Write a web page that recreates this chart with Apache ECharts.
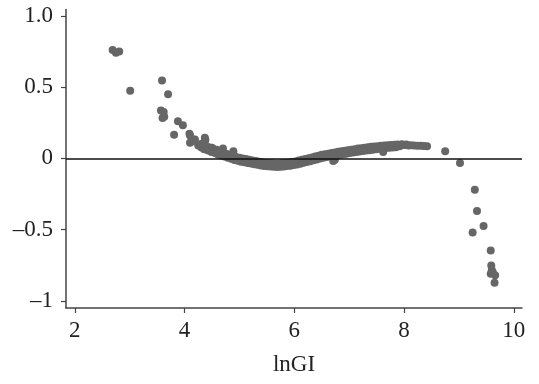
<!DOCTYPE html>
<html>
<head>
<meta charset="utf-8">
<script src="https://cdn.jsdelivr.net/npm/echarts@6/dist/echarts.min.js"></script>
<style>html,body{margin:0;padding:0;background:#fff}#c{width:539px;height:384px}</style>
</head>
<body>
<div id="c"></div>
<script>
var xTicks = [2, 4, 6, 8, 10];
var yTicks = [-1, -0.5, 0, 0.5, 1];
var yTickLabels = ['\u20131', '\u20130.5', '0', '0.5', '1.0'];
var xName = 'lnGI';

var leftPoints = [
  [2.69,0.76],[2.75,0.742],[2.81,0.751],[3.01,0.475],[3.59,0.547],[3.70,0.451],
  [3.57,0.337],[3.62,0.325],[3.63,0.293],[3.60,0.283],[3.88,0.26],[3.97,0.232],
  [3.81,0.166],[4.09,0.173],[4.13,0.138],[4.19,0.133],[4.10,0.11],[4.37,0.145],
  [4.36,0.11],[4.32,0.075],[4.41,0.063],[4.50,0.075],[4.56,0.04],[4.10,0.16],
  [4.38,0.13],[4.89,0.051],[4.70,0.07],[4.15,0.12],[4.25,0.09],[4.28,0.1]
];
var bandX = [4.30,4.33,4.36,4.40,4.43,4.46,4.49,4.52,4.55,4.58,4.61,4.64,4.67,4.70,4.73,4.76,4.79,4.82,4.85,4.88,
  4.91,4.94,4.97,5.00,5.03,5.06,5.09,5.12,5.15,5.18,5.21,5.24,5.27,5.30,5.33,5.36,5.39,5.42,5.45,5.48,
  5.51,5.54,5.57,5.60,5.63,5.66,5.69,5.72,5.75,5.78,5.81,5.84,5.87,5.90,5.93,5.96,5.99,6.02,6.05,6.08,
  6.11,6.14,6.17,6.20,6.23,6.26,6.29,6.32,6.35,6.38,6.41,6.44,6.47,6.50,6.53,6.56,6.59,6.62,6.65,6.68,
  6.71,6.74,6.77,6.80,6.83,6.86,6.89,6.92,6.95,6.98,7.01,7.04,7.07,7.10,7.13,7.16,7.19,7.22,7.25,7.28,
  7.31,7.34,7.37,7.40,7.43,7.46,7.49,7.52,7.55,7.58,7.61,7.64,7.67,7.70,7.73,7.76,7.79,7.82,7.85,7.88,
  7.92,7.96,8.00,8.04,8.08,8.12,8.18,8.24,8.30,8.36,8.42,6.74,7.62,6.71];
var bandY = [0.08,0.105,0.065,0.085,0.055,0.077,0.045,0.067,0.04,0.06,0.028,0.05,0.02,0.04,0.013,0.033,0.005,0.025,-0.003,0.017,
  -0.011,0.01,-0.017,0.005,-0.023,-0.001,-0.027,-0.005,-0.032,-0.01,-0.035,-0.015,-0.041,-0.019,-0.045,-0.023,-0.049,-0.027,-0.053,-0.03,
  -0.055,-0.032,-0.057,-0.034,-0.059,-0.035,-0.06,-0.036,-0.058,-0.033,-0.057,-0.031,-0.054,-0.028,-0.051,-0.025,-0.047,-0.021,-0.043,-0.015,
  -0.037,-0.01,-0.031,-0.005,-0.025,0.001,-0.02,0.007,-0.013,0.013,-0.007,0.019,-0.001,0.025,0.005,0.029,0.009,0.033,0.013,0.038,
  0.017,0.042,0.021,0.046,0.025,0.05,0.029,0.054,0.033,0.058,0.037,0.061,0.041,0.065,0.045,0.069,0.048,0.072,0.052,0.075,
  0.055,0.078,0.058,0.081,0.061,0.084,0.064,0.086,0.067,0.088,0.07,0.09,0.073,0.092,0.075,0.094,0.077,0.095,0.079,0.097,
  0.086,0.1,0.094,0.098,0.09,0.093,0.09,0.088,0.089,0.087,0.086,-0.01,0.045,-0.019];
var rightPoints = [
  [8.75,0.051],[9.02,-0.033],[9.29,-0.22],[9.33,-0.37],[9.45,-0.475],[9.25,-0.52],
  [9.58,-0.646],[9.59,-0.751],[9.60,-0.784],[9.58,-0.81],[9.66,-0.82],[9.65,-0.872],[9.62,-0.80]
];

var pts = leftPoints.slice();
for (var i = 0; i < bandX.length; i++) pts.push([bandX[i], bandY[i]]);
pts = pts.concat(rightPoints);

var font = 'Liberation Serif';
var chart = echarts.init(document.getElementById('c'), null, {renderer: 'canvas'});
chart.setOption({
  animation: false,
  backgroundColor: '#ffffff',
  grid: {left: 66, right: 17, top: 9.5, bottom: 76, containLabel: false},
  xAxis: {
    type: 'value', min: 1.84, max: 10.15,
    name: xName, nameLocation: 'middle', nameGap: 45,
    nameTextStyle: {fontFamily: font, fontSize: 23, color: '#222'},
    splitLine: {show: false},
    axisLine: {show: true, onZero: false, lineStyle: {color: '#444', width: 1.5}},
    axisTick: {show: true, length: 5, customValues: xTicks, lineStyle: {color: '#444', width: 1.2}},
    axisLabel: {margin: 11, customValues: xTicks, fontFamily: font, fontSize: 23, color: '#222'}
  },
  yAxis: {
    type: 'value', min: -1.05, max: 1.045,
    splitLine: {show: false},
    axisLine: {show: true, onZero: false, lineStyle: {color: '#444', width: 1.5}},
    axisTick: {show: true, length: 5, customValues: yTicks, lineStyle: {color: '#444', width: 1.2}},
    axisLabel: {margin: 13, customValues: yTicks, fontFamily: font, fontSize: 23, color: '#222',
      formatter: function (v) { var k = yTicks.indexOf(Math.round(v * 100) / 100); return k >= 0 ? yTickLabels[k] : ''; }}
  },
  series: [{
    type: 'scatter',
    data: pts,
    symbolSize: 8,
    itemStyle: {color: '#666666', opacity: 1},
    markLine: {
      silent: true, symbol: ['none', 'none'], label: {show: false},
      lineStyle: {color: '#111', width: 1.5, type: 'solid'},
      data: [{yAxis: 0}]
    },
    z: 3
  }]
});
</script>
</body>
</html>
